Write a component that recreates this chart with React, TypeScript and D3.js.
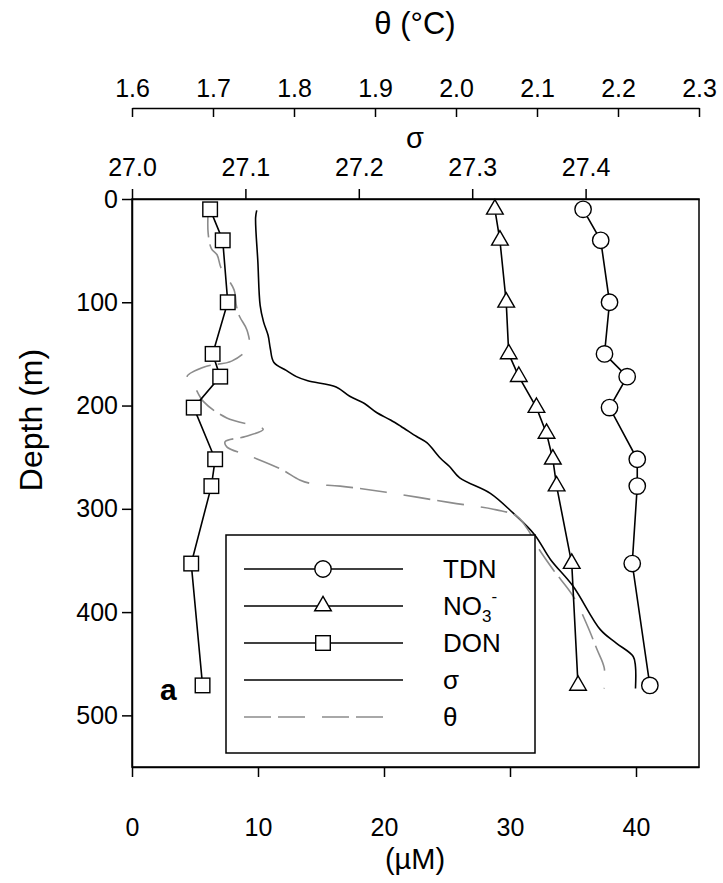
import { useEffect, useRef } from "react";
import * as d3 from "d3";

// sample depths (m) of the bottle data
const depthsTDN = [10, 40, 100, 150, 172, 202, 252, 278, 353, 471];
const valuesTDN = [35.8, 37.2, 37.9, 37.5, 39.3, 37.9, 40.1, 40.1, 39.7, 41.1];
const depthsNO3 = [10, 40, 100, 150, 172, 202, 227, 252, 278, 353, 471];
const valuesNO3 = [28.8, 29.2, 29.7, 29.9, 30.7, 32.1, 32.9, 33.4, 33.7, 34.9, 35.4];
const depthsDON = [10, 40, 100, 150, 172, 202, 252, 278, 353, 471];
const valuesDON = [6.2, 7.2, 7.6, 6.4, 7.0, 4.9, 6.6, 6.3, 4.7, 5.6];

// CTD profiles
const sigmaDepth = [11, 18, 61, 103, 119, 132, 145, 158, 166, 172, 176, 182, 191, 198, 207, 214, 220, 230, 236, 251, 259, 270, 285, 304, 325, 349, 375, 417, 430, 443, 453, 474];
const sigmaValues = [27.110, 27.109, 27.111, 27.113, 27.116, 27.120, 27.122, 27.125, 27.136, 27.145, 27.155, 27.180, 27.192, 27.205, 27.216, 27.228, 27.237, 27.251, 27.260, 27.272, 27.280, 27.289, 27.316, 27.336, 27.355, 27.369, 27.389, 27.413, 27.427, 27.442, 27.444, 27.444];
const thetaDepth = [11, 33, 48, 54, 67, 88, 104, 114, 127, 143, 157, 162, 172, 180, 196, 212, 223, 230, 235, 240, 249, 262, 272, 276, 278, 284, 294, 301, 307, 323, 336, 359, 385, 411, 436, 454, 474];
const thetaValues = [1.694, 1.694, 1.698, 1.705, 1.710, 1.726, 1.729, 1.733, 1.742, 1.744, 1.723, 1.692, 1.668, 1.676, 1.688, 1.717, 1.762, 1.740, 1.715, 1.717, 1.746, 1.785, 1.807, 1.824, 1.857, 1.914, 1.993, 2.050, 2.075, 2.091, 2.100, 2.120, 2.145, 2.161, 2.174, 2.183, 2.183];

const uMTicks = [0, 10, 20, 30, 40];
const depthTicks = [0, 100, 200, 300, 400, 500];
const sigmaTicks = [27.0, 27.1, 27.2, 27.3, 27.4];
const thetaTicks = [1.6, 1.7, 1.8, 1.9, 2.0, 2.1, 2.2, 2.3];

const legendNames = ["TDN", "NO3", "DON", "σ", "θ"];

function ProfileChart() {
  const svgRef = useRef(null);

  useEffect(() => {
    const svg = d3.select(svgRef.current);
    svg.selectAll("*").remove();

    const left = 132, right = 699, top = 199, bottom = 767;
    const font = "Arial, 'Liberation Sans', sans-serif";
    const tickSize = 25;

    const x = d3.scaleLinear().domain([0, 45]).range([left, right]);
    const y = d3.scaleLinear().domain([0, 550]).range([top, bottom]);
    const xs = d3.scaleLinear().domain([27.0, 27.5]).range([left, right]);
    const xt = d3.scaleLinear().domain([1.6, 2.3]).range([left, right]);

    // frame
    svg.append("rect")
      .attr("x", left).attr("y", top)
      .attr("width", right - left).attr("height", bottom - top)
      .attr("fill", "none").attr("stroke", "#000").attr("stroke-width", 1.5);

    const styleAxis = (g, size) => {
      g.selectAll("path.domain").attr("stroke", "#000").attr("stroke-width", 1.5);
      g.selectAll(".tick line").attr("stroke", "#000").attr("stroke-width", 1.5);
      g.selectAll(".tick text").attr("font-family", font).attr("font-size", size).attr("fill", "#000");
    };

    const gx = svg.append("g").attr("transform", `translate(0,${bottom})`)
      .call(d3.axisBottom(x).tickValues(uMTicks).tickSize(10).tickPadding(41).tickSizeOuter(0));
    styleAxis(gx, tickSize);

    const gy = svg.append("g").attr("transform", `translate(${left},0)`)
      .call(d3.axisLeft(y).tickValues(depthTicks).tickSize(10).tickPadding(4).tickSizeOuter(0));
    styleAxis(gy, tickSize);

    const gs = svg.append("g").attr("transform", `translate(0,${top})`)
      .call(d3.axisTop(xs).tickValues(sigmaTicks).tickSize(10).tickPadding(13)
        .tickFormat(d3.format(".1f")).tickSizeOuter(0));
    styleAxis(gs, tickSize);

    const gt = svg.append("g").attr("transform", "translate(0,108)")
      .call(d3.axisBottom(xt).tickValues(thetaTicks).tickSize(9).tickSizeOuter(0)
        .tickFormat(d3.format(".1f")));
    styleAxis(gt, tickSize);
    gt.selectAll(".tick text").attr("y", -11).attr("dy", "0");

    // axis titles
    svg.append("text").attr("x", 415).attr("y", 34).attr("text-anchor", "middle")
      .attr("font-family", font).attr("font-size", 31).text("θ (°C)");
    svg.append("text").attr("x", 415).attr("y", 148).attr("text-anchor", "middle")
      .attr("font-family", font).attr("font-size", 29).text("σ");
    svg.append("text").attr("x", 415).attr("y", 869).attr("text-anchor", "middle")
      .attr("font-family", font).attr("font-size", 29).text("(µM)");
    svg.append("text").attr("transform", "translate(42,420) rotate(-90)")
      .attr("text-anchor", "middle").attr("font-family", font).attr("font-size", 32)
      .text("Depth (m)");
    svg.append("text").attr("x", 160).attr("y", 700).attr("font-family", font)
      .attr("font-size", 30).attr("font-weight", "bold").text("a");

    // CTD profiles
    const sigmaLine = d3.line().curve(d3.curveCatmullRom.alpha(0.5))
      .x((d) => xs(d[1])).y((d) => y(d[0]));
    svg.append("path")
      .datum(d3.zip(sigmaDepth, sigmaValues))
      .attr("d", sigmaLine).attr("fill", "none").attr("stroke", "#000").attr("stroke-width", 1.6);

    const thetaLine = d3.line().curve(d3.curveCatmullRom.alpha(0.5))
      .x((d) => xt(d[1])).y((d) => y(d[0]));
    svg.append("path")
      .datum(d3.zip(thetaDepth, thetaValues))
      .attr("d", thetaLine).attr("fill", "none").attr("stroke", "#8c8c8c")
      .attr("stroke-width", 1.6).attr("stroke-dasharray", "27,7,27,17");

    // bottle data
    const dataLine = d3.line().x((d) => x(d[1])).y((d) => y(d[0]));
    const series = [
      { depths: depthsTDN, values: valuesTDN, shape: "circle" },
      { depths: depthsNO3, values: valuesNO3, shape: "triangle" },
      { depths: depthsDON, values: valuesDON, shape: "square" },
    ];

    const drawMarker = (g, shape, cx, cy) => {
      if (shape === "circle") {
        g.append("circle").attr("cx", cx).attr("cy", cy).attr("r", 8.2)
          .attr("fill", "#fff").attr("stroke", "#000").attr("stroke-width", 1.4);
      } else if (shape === "triangle") {
        const sym = d3.symbol().type(d3.symbolTriangle).size(120);
        g.append("path").attr("d", sym()).attr("transform", `translate(${cx},${cy})`)
          .attr("fill", "#fff").attr("stroke", "#000").attr("stroke-width", 1.4);
      } else {
        g.append("rect").attr("x", cx - 7.3).attr("y", cy - 7.3).attr("width", 14.6).attr("height", 14.6)
          .attr("fill", "#fff").attr("stroke", "#000").attr("stroke-width", 1.4);
      }
    };

    series.forEach((s) => {
      const pts = d3.zip(s.depths, s.values);
      svg.append("path").datum(pts).attr("d", dataLine)
        .attr("fill", "none").attr("stroke", "#000").attr("stroke-width", 1.6);
      const g = svg.append("g");
      pts.forEach((p) => drawMarker(g, s.shape, x(p[1]), y(p[0])));
    });

    // legend
    const lg = svg.append("g");
    lg.append("rect").attr("x", 226).attr("y", 535).attr("width", 309).attr("height", 218)
      .attr("fill", "#fff").attr("stroke", "#000").attr("stroke-width", 1.5);
    const rowY = d3.scalePoint().domain(legendNames).range([569, 717]);
    legendNames.forEach((name, i) => {
      const ry = rowY(name);
      const ln = lg.append("line").attr("x1", 244).attr("x2", 403).attr("y1", ry).attr("y2", ry)
        .attr("stroke-width", 1.6);
      if (i === 4) {
        ln.attr("x2", 384).attr("stroke", "#8c8c8c").attr("stroke-dasharray", "27,7,27,17");
      } else {
        ln.attr("stroke", "#000");
      }
      if (i < 3) drawMarker(lg, series[i].shape, 323, ry);
      const t = lg.append("text").attr("x", 443).attr("y", ry + 9)
        .attr("font-family", font).attr("font-size", 26);
      if (name === "NO3") {
        t.append("tspan").text("NO");
        t.append("tspan").attr("font-size", 17).attr("dy", 7).text("3");
        t.append("tspan").attr("font-size", 17).attr("dy", -20).text("-");
      } else {
        t.text(name);
      }
    });
  }, []);

  return (
    <svg ref={svgRef} width={723} height={883}
      style={{ position: "absolute", left: 0, top: 0, background: "#fff" }} />
  );
}

export default function App() {
  return <ProfileChart />;
}
